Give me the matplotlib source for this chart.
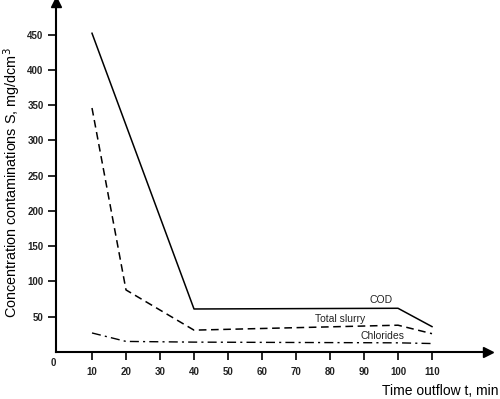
import numpy as np
import matplotlib
matplotlib.use("Agg")
from matplotlib import pyplot as plt

plt.rcParams['font.family'] = ['Liberation Sans', 'DejaVu Sans']

# values
time_cod = [10, 40, 100, 110]
cod = [452, 61, 62, 36]
time_slurry = [10, 20, 40, 100, 110]
slurry = [346, 88, 31, 38, 26]
time_chl = [10, 20, 40, 100, 110]
chlorides = [27, 15, 14, 13, 12]

x_ticks = [10, 20, 30, 40, 50, 60, 70, 80, 90, 100, 110]
y_ticks = [50, 100, 150, 200, 250, 300, 350, 400, 450]

W, H = 500, 399
fig = plt.figure(figsize=(W / 100, H / 100), dpi=100)

# axes box in pixels: spines reach the arrow tips
left, right, top, bottom = 56, 488, 2, 352
ax = fig.add_axes([left / W, (H - bottom) / H, (right - left) / W, (bottom - top) / H])
ax.set_xlim(10 - (92 - left) / 3.4, 10 + (right - 92) / 3.4)
ax.set_ylim(0, (bottom - top) / 0.7052)

ax.plot(time_cod, cod, color='black', lw=1.1)
ax.plot(time_slurry, slurry, color='black', lw=1.1, dashes=(5, 3))
ax.plot(time_chl, chlorides, color='black', lw=1.0, dashes=(6.5, 3, 1.5, 3))

# series names sit on the chart beside the lines
ax.text(95, 66, 'COD', ha='center', va='bottom', fontsize=7.5, color='#222222')
ax.text(83, 40, 'Total slurry', ha='center', va='bottom', fontsize=7.5, color='#222222')
ax.text(95.5, 16, 'Chlorides', ha='center', va='bottom', fontsize=7.5, color='#222222')

for s in ['top', 'right']:
    ax.spines[s].set_visible(False)
for s in ['left', 'bottom']:
    ax.spines[s].set_linewidth(1.5)

# arrow heads
ax.plot(1, 0, marker='>', color='black', ms=7, transform=ax.transAxes, clip_on=False)
ax.plot(0, 1, marker='^', color='black', ms=7, transform=ax.transAxes, clip_on=False)

ax.set_xticks(x_ticks)
ax.set_yticks(y_ticks)
ax.tick_params(axis='both', direction='out', length=6, width=1.2, labelsize=7, pad=3)
ax.tick_params(axis='x', pad=5)
for lab in ax.get_xticklabels() + ax.get_yticklabels():
    lab.set_fontweight('bold')
    lab.set_color('#222222')

fig.text(53 / W, 1 - 363 / H, '0', fontsize=7, ha='center', va='center',
         fontweight='bold', color='#222222')
fig.text(12 / W, 1 - 183 / H, 'Concentration contaminations S, mg/dcm$^3$',
         rotation=90, fontsize=10.4, ha='center', va='center')
fig.text(498 / W, 1 - 391 / H, 'Time outflow t, min', fontsize=10, ha='right', va='center')

fig.savefig('out.png', dpi=100)
